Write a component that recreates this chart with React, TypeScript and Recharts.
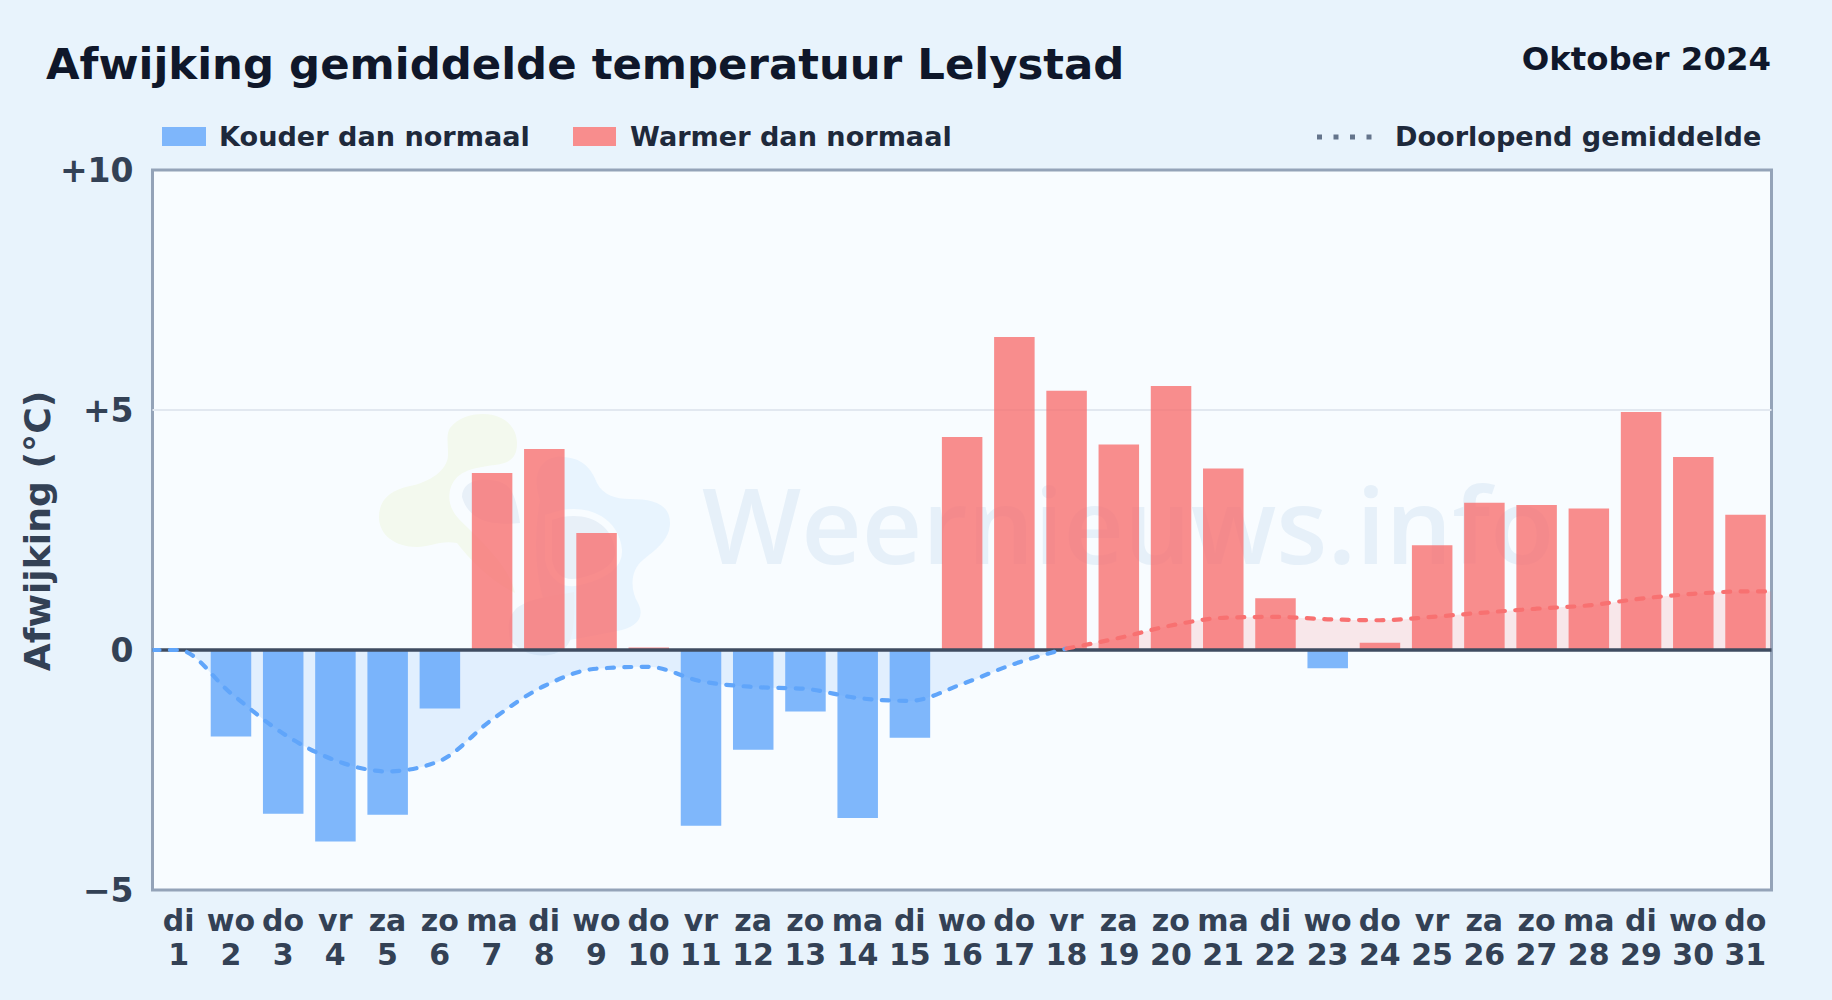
import React from "react";
import { ComposedChart, Bar, Line, Area, XAxis, YAxis, ReferenceLine, CartesianGrid } from "recharts";

const weekdays = ["di","wo","do","vr","za","zo","ma","di","wo","do","vr","za","zo","ma","di","wo","do","vr","za","zo","ma","di","wo","do","vr","za","zo","ma","di","wo","do"];
const days = [1,2,3,4,5,6,7,8,9,10,11,12,13,14,15,16,17,18,19,20,21,22,23,24,25,26,27,28,29,30,31];
const deviation = [0,-1.8,-3.41,-3.99,-3.43,-1.22,3.69,4.19,2.44,0.05,-3.66,-2.08,-1.28,-3.5,-1.83,4.44,6.52,5.4,4.28,5.5,3.78,1.08,-0.38,0.15,2.18,3.07,3.02,2.95,4.96,4.02,2.82];
const runningMean = [0,-0.9,-1.74,-2.3,-2.53,-2.31,-1.45,-0.75,-0.39,-0.35,-0.65,-0.77,-0.81,-1.0,-1.06,-0.71,-0.29,0.03,0.25,0.51,0.67,0.69,0.64,0.62,0.69,0.78,0.86,0.93,1.07,1.17,1.22];
const yTicks = [-5,0,5,10];
const yLabels: Record<number,string> = { [-5]: "\u22125", 0: "0", 5: "+5", 10: "+10" };

const barRows = days.map((d, i) => ({
  x: d,
  cold: deviation[i] < 0 ? deviation[i] : null,
  warm: deviation[i] > 0 ? deviation[i] : null,
}));
const negRows: any[] = [{ x: 0.5, neg: 0 }];
const posRows: any[] = [];
days.forEach((d, i) => {
  if (d <= 18) negRows.push({ x: d, neg: runningMean[i] });
  if (d >= 18) posRows.push({ x: d, pos: runningMean[i] });
});
posRows.push({ x: 31.5, pos: 1.22 });

const FONT = "'DejaVu Sans', sans-serif";
const BLUE = "#60a5fa";
const RED = "#f87171";
const INK = "#334155";
const PLOT = "#f8fcff";

const XTick = (props: any) => {
  const { x, payload } = props;
  const i = payload.value - 1;
  return (
    <text x={x} textAnchor="middle" fontFamily={FONT} fontWeight={700} fontSize={30} fill={INK}>
      <tspan x={x} y={931}>{weekdays[i]}</tspan>
      <tspan x={x} y={964.5}>{days[i]}</tspan>
    </text>
  );
};

const label = (x: number, y: number, text: string, size: number, color: string, anchor: string = "start") => (
  <text x={x} y={y} fontFamily={FONT} fontWeight={700} fontSize={size} fill={color} textAnchor={anchor as any}>{text}</text>
);

export default function App() {
  return (
    <div style={{ position: "absolute", left: 0, top: 0, width: 1832, height: 1000, background: "#e8f3fc", overflow: "hidden" }}>
      <svg width={1832} height={1000} style={{ position: "absolute", left: 0, top: 0 }}>
        <rect x={152.5} y={170} width={1619} height={720} fill={PLOT} stroke="#94a3b8" strokeWidth={3} />
        <path d="M483 414 C505 414 517 428 517 443 C517 458 510 463 495 465 C470 468 455 472 450 490 C446 510 460 520 470 530 C490 550 510 570 515 593 C490 580 470 560 457 543 C440 540 430 547 417 547 C395 547 379 535 379 517 C379 500 390 490 410 486 C430 482 448 470 448 455 C448 440 446 435 450 428 C458 418 470 414 483 414 Z" fill="#f3f9ee" />
        <path d="M563 457 C580 458 590 465 597 483 C603 495 615 499 630 499 C655 499 670 505 670 523 C670 540 655 550 643 560 C630 570 630 590 638 603 C646 618 635 628 617 631 L570 640 C540 620 530 560 540 500 C530 470 545 455 563 457 Z" fill="#e8f4fe" />
        <path d="M462 497 C462 485 472 478 490 480 C510 482 515 490 520 523 C500 525 470 525 462 497 Z" fill="#e8f0f8" stroke={PLOT} strokeWidth={14} style={{ paintOrder: "stroke" }} />
        <path d="M562 517 C590 512 612 525 615 550 C616 565 600 573 580 578 C565 582 555 575 552 560 L552 520 Z" fill="#e8f0f8" stroke={PLOT} strokeWidth={14} style={{ paintOrder: "stroke" }} />
        <path d="M515 610 C525 598 560 595 574 592 C575 610 575 640 565 648 C550 660 525 658 510 640 C508 625 508 618 515 610 Z" fill="#e8f0f8" />
        <text x={702} y={564} fontFamily="'Open Sans', 'Noto Sans', sans-serif" fontWeight={600} fontSize={105} fill="#e6f0f9">Weernieuws.info</text>
        {label(46, 79, "Afwijking gemiddelde temperatuur Lelystad", 43.4, "#0f172a")}
        {label(1771, 70, "Oktober 2024", 32.4, "#0f172a", "end")}
        <rect x={162} y={127} width={44} height={19} fill="#7eb6fb" />
        {label(219, 146, "Kouder dan normaal", 27.1, "#1e293b")}
        <rect x={573} y={127} width={43} height={19} fill="#f88d8d" />
        {label(630, 146, "Warmer dan normaal", 27.1, "#1e293b")}
        <line x1={1317} y1={137} x2={1374} y2={137} stroke="#64748b" strokeWidth={5} strokeDasharray="5 11.5" />
        {label(1395, 146, "Doorlopend gemiddelde", 27.1, "#1e293b")}
        <text transform="translate(50,531) rotate(-90)" textAnchor="middle" fontFamily={FONT} fontWeight={700} fontSize={36.2} fill={INK}>Afwijking (°C)</text>
      </svg>
      <div style={{ position: "absolute", left: 0, top: 0 }}>
        <ComposedChart width={1832} height={1000} data={barRows} margin={{ top: 170, right: 60.5, bottom: 0, left: 0 }}>
          <CartesianGrid vertical={false} horizontalValues={[5]} stroke="#e2e8f0" strokeWidth={2} />
          <XAxis dataKey="x" type="number" domain={[0.5, 31.5]} ticks={days} interval={0} height={110} axisLine={false} tickLine={false} tick={<XTick />} allowDataOverflow />
          <XAxis xAxisId="mean" dataKey="x" type="number" domain={[0.5, 31.5]} hide allowDataOverflow />
          <YAxis type="number" domain={[-5, 10]} ticks={yTicks} width={152.5} axisLine={false} tickLine={false} tickMargin={13} interval={0}
            tickFormatter={(v: number) => yLabels[v]} tick={{ fontFamily: FONT, fontWeight: 700, fontSize: 33, fill: INK }} />
          <Area xAxisId="mean" data={negRows} dataKey="neg" type="monotone" stroke="none" fill={BLUE} fillOpacity={0.15} isAnimationActive={false} dot={false} activeDot={false} />
          <Area xAxisId="mean" data={posRows} dataKey="pos" type="monotone" stroke="none" fill={RED} fillOpacity={0.15} isAnimationActive={false} dot={false} activeDot={false} />
          <Bar dataKey="cold" stackId="d" barSize={40.5} fill={BLUE} fillOpacity={0.8} isAnimationActive={false} />
          <Bar dataKey="warm" stackId="d" barSize={40.5} fill={RED} fillOpacity={0.8} isAnimationActive={false} />
          <ReferenceLine y={0} stroke="#3f4c61" strokeWidth={3.5} />
          <Line xAxisId="mean" data={negRows} dataKey="neg" type="monotone" stroke={BLUE} strokeWidth={4.2} strokeDasharray="7 10.4" strokeLinecap="round" dot={false} activeDot={false} isAnimationActive={false} />
          <Line xAxisId="mean" data={posRows} dataKey="pos" type="monotone" stroke={RED} strokeWidth={4.2} strokeDasharray="7 10.4" strokeLinecap="round" dot={false} activeDot={false} isAnimationActive={false} />
        </ComposedChart>
      </div>
    </div>
  );
}
